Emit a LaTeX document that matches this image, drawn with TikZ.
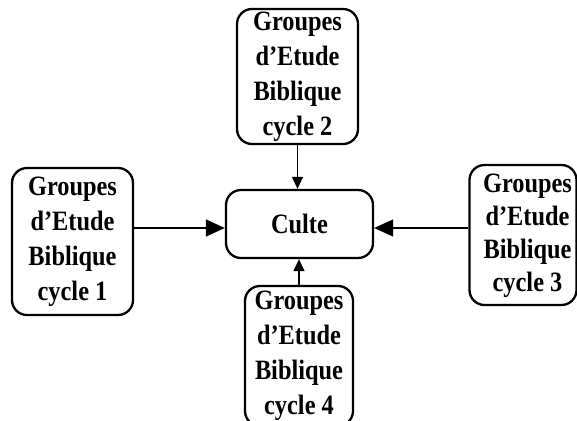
\documentclass[tikz,border=0pt]{standalone}
\usepackage{fontspec}
\setmainfont{Liberation Serif}[FakeStretch=0.87]
\usetikzlibrary{arrows.meta}
\begin{document}
\begin{tikzpicture}[x=1pt,y=-1pt,
  box/.style={draw,line width=2.3pt,rounded corners=15pt,align=center,inner sep=0pt,
    font=\fontsize{28}{35}\selectfont\bfseries},
  bigarrow/.style={line width=1.3pt,-{Triangle[length=19pt,width=17pt]}},
  smallarrow/.style={line width=1.3pt,-{Triangle[length=12pt,width=11pt]}}]
\useasboundingbox (0,0) rectangle (577,420);
\node[box,minimum width=121pt,minimum height=135pt] (c2) at (297.5,76.5) {Groupes\\d'Etude\\Biblique\\cycle 2};
\node[box,minimum width=121pt,minimum height=147pt] (c1) at (72.5,241.5) {Groupes\\d'Etude\\Biblique\\cycle 1};
\node[box,minimum width=107pt,minimum height=140pt,font=\fontsize{28}{33}\selectfont\bfseries] (c3) at (523,235)
  {\hspace*{9pt}\begin{tabular}{@{}c@{}}Groupes\\d'Etude\\Biblique\\cycle 3\end{tabular}};
\node[box,minimum width=108pt,minimum height=140pt] (c4) at (299,356) {Groupes\\d'Etude\\Biblique\\cycle 4};
\node[box,minimum width=147pt,minimum height=68pt] (cu) at (299.5,224) {Culte};
\draw[smallarrow] (c2.south) -- (cu.north -| c2.south);
\draw[smallarrow] (c4.north) -- (cu.south -| c4.north);
\draw[bigarrow] (c1.east |- 0,228) -- (cu.west |- 0,228);
\draw[bigarrow] (c3.west |- 0,228) -- (cu.east |- 0,228);
\end{tikzpicture}
\end{document}
